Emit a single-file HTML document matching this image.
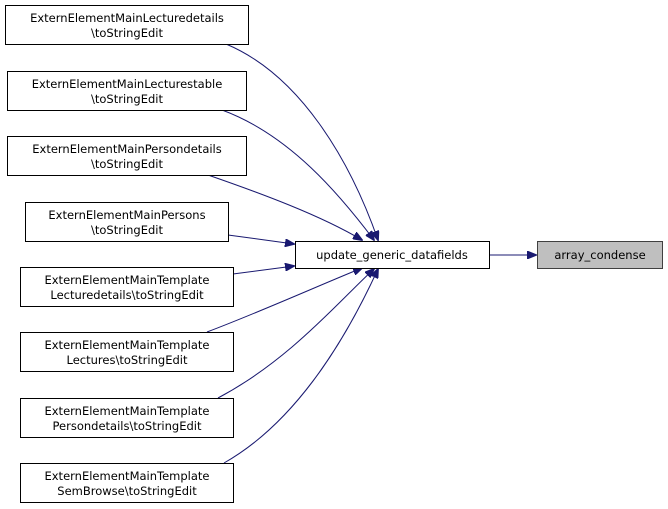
<!DOCTYPE html>
<html><head><meta charset="utf-8"><style>
html,body{margin:0;padding:0;background:#fff;}
svg{display:block;}
text{font-family:"DejaVu Sans","Liberation Sans",sans-serif;font-size:11.5px;fill:#000;}
</style></head><body>
<svg width="668" height="509" viewBox="0 0 668 509" xmlns="http://www.w3.org/2000/svg">
<defs><marker id="a" markerWidth="10" markerHeight="8" refX="9" refY="4" orient="auto" markerUnits="userSpaceOnUse"><path d="M0,0 L10,4 L0,8 z" fill="#191970" stroke="#191970"/></marker></defs>
<g fill="none" stroke="#191970" stroke-width="1">
<path d="M226,44 C300,75 350,160 378,240" marker-end="url(#a)"/>
<path d="M222,110 C290,135 340,195 374,240" marker-end="url(#a)"/>
<path d="M208,175 C260,193 320,215 362,240" marker-end="url(#a)"/>
<path d="M228,235 L294,244" marker-end="url(#a)"/>
<path d="M233,274 L294,266" marker-end="url(#a)"/>
<path d="M207,332 C260,312 320,285 362,268" marker-end="url(#a)"/>
<path d="M218,398 C290,360 340,300 374,269" marker-end="url(#a)"/>
<path d="M224,463 C300,420 350,330 378,269" marker-end="url(#a)"/>
<path d="M489,255 L536,255" marker-end="url(#a)"/>
</g>
<g stroke="#000" stroke-width="1" fill="#fff">
<rect x="5.5" y="5.5" width="243" height="39"/>
<rect x="7.5" y="71.5" width="239" height="39"/>
<rect x="7.5" y="136.5" width="239" height="39"/>
<rect x="25.5" y="202.5" width="203" height="39"/>
<rect x="20.5" y="267.5" width="213" height="39"/>
<rect x="20.5" y="332.5" width="213" height="39"/>
<rect x="20.5" y="398.5" width="213" height="39"/>
<rect x="20.5" y="463.5" width="213" height="39"/>
<rect x="295.5" y="241.5" width="194" height="27"/>
<rect x="537.5" y="241.5" width="125" height="27" fill="#bfbfbf" stroke="#404040"/>
</g>
<g text-anchor="middle">
<text x="127" y="22">ExternElementMainLecturedetails</text><text x="127" y="37">\toString­Edit</text>
<text x="127" y="88">ExternElementMainLecturestable</text><text x="127" y="103">\toStringEdit</text>
<text x="127" y="153">ExternElementMainPersondetails</text><text x="127" y="168">\toStringEdit</text>
<text x="127" y="219">ExternElementMainPersons</text><text x="127" y="234">\toStringEdit</text>
<text x="127" y="284">ExternElementMainTemplate</text><text x="127" y="299">Lecturedetails\toStringEdit</text>
<text x="127" y="349">ExternElementMainTemplate</text><text x="127" y="364">Lectures\toStringEdit</text>
<text x="127" y="415">ExternElementMainTemplate</text><text x="127" y="430">Persondetails\toStringEdit</text>
<text x="127" y="480">ExternElementMainTemplate</text><text x="127" y="495">SemBrowse\toStringEdit</text>
<text x="392" y="259">update_generic_datafields</text>
<text x="600" y="259">array_condense</text>
</g>
</svg>
</body></html>
